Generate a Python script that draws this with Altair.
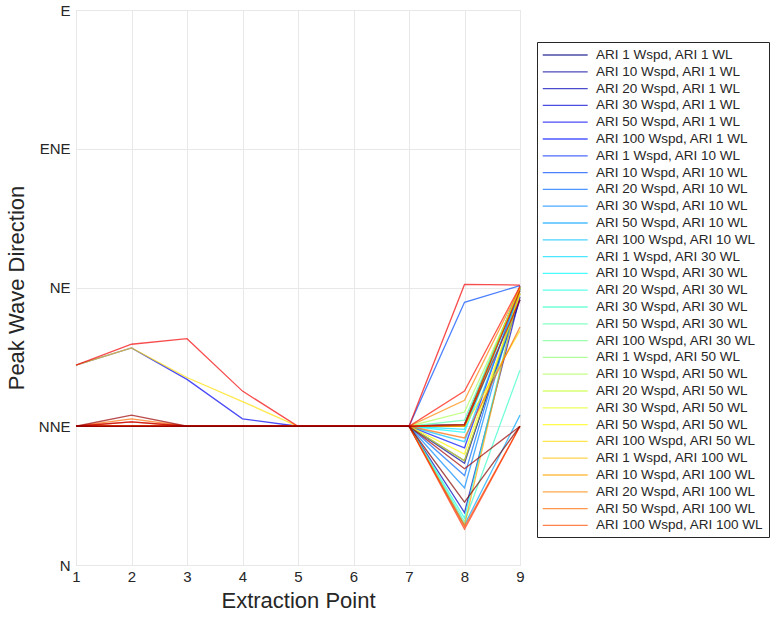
import altair as alt
import pandas as pd

# ---------------- data ----------------
x_points = [1, 2, 3, 4, 5, 6, 7, 8, 9]

legend_labels = [
    "ARI 1 Wspd, ARI 1 WL", "ARI 10 Wspd, ARI 1 WL", "ARI 20 Wspd, ARI 1 WL",
    "ARI 30 Wspd, ARI 1 WL", "ARI 50 Wspd, ARI 1 WL", "ARI 100 Wspd, ARI 1 WL",
    "ARI 1 Wspd, ARI 10 WL", "ARI 10 Wspd, ARI 10 WL", "ARI 20 Wspd, ARI 10 WL",
    "ARI 30 Wspd, ARI 10 WL", "ARI 50 Wspd, ARI 10 WL", "ARI 100 Wspd, ARI 10 WL",
    "ARI 1 Wspd, ARI 30 WL", "ARI 10 Wspd, ARI 30 WL", "ARI 20 Wspd, ARI 30 WL",
    "ARI 30 Wspd, ARI 30 WL", "ARI 50 Wspd, ARI 30 WL", "ARI 100 Wspd, ARI 30 WL",
    "ARI 1 Wspd, ARI 50 WL", "ARI 10 Wspd, ARI 50 WL", "ARI 20 Wspd, ARI 50 WL",
    "ARI 30 Wspd, ARI 50 WL", "ARI 50 Wspd, ARI 50 WL", "ARI 100 Wspd, ARI 50 WL",
    "ARI 1 Wspd, ARI 100 WL", "ARI 10 Wspd, ARI 100 WL", "ARI 20 Wspd, ARI 100 WL",
    "ARI 50 Wspd, ARI 100 WL", "ARI 100 Wspd, ARI 100 WL",
]
unlabelled = ["data30", "data31", "data32", "data33", "data34", "data35", "data36"]
series_names = legend_labels + unlabelled

# peak wave direction (degrees) at extraction points 1..9, one row per series
directions = [
    [22.5, 22.5, 22.5, 22.5, 22.5, 22.5, 22.5, 16.9, 43.0],
    [22.5, 22.5, 22.5, 22.5, 22.5, 22.5, 22.5, 16.5, 44.0],
    [22.5, 22.5, 22.5, 22.5, 22.5, 22.5, 22.5, 8.5, 43.5],
    [22.5, 22.5, 22.5, 22.5, 22.5, 22.5, 22.5, 22.8, 45.0],
    [32.4, 35.2, 30.1, 23.7, 22.5, 22.5, 22.5, 22.8, 45.2],
    [22.5, 22.5, 22.5, 22.5, 22.5, 22.5, 22.5, 19.0, 45.0],
    [22.5, 22.5, 22.5, 22.5, 22.5, 22.5, 22.5, 22.5, 44.8],
    [22.5, 22.5, 22.5, 22.5, 22.5, 22.5, 22.5, 42.6, 45.3],
    [22.5, 22.5, 22.5, 22.5, 22.5, 22.5, 22.5, 14.5, 45.0],
    [22.5, 22.5, 22.5, 22.5, 22.5, 22.5, 22.5, 12.5, 45.0],
    [22.5, 22.5, 22.5, 22.5, 22.5, 22.5, 22.5, 6.5, 24.3],
    [22.5, 22.5, 22.5, 22.5, 22.5, 22.5, 22.5, 20.0, 44.5],
    [22.5, 22.5, 22.5, 22.5, 22.5, 22.5, 22.5, 22.0, 45.0],
    [22.5, 22.5, 22.5, 22.5, 22.5, 22.5, 22.5, 21.5, 45.0],
    [22.5, 22.5, 22.5, 22.5, 22.5, 22.5, 22.5, 7.6, 45.0],
    [22.5, 22.5, 22.5, 22.5, 22.5, 22.5, 22.5, 7.0, 31.6],
    [22.5, 22.5, 22.5, 22.5, 22.5, 22.5, 22.5, 23.5, 45.0],
    [22.5, 22.5, 22.5, 22.5, 22.5, 22.5, 22.5, 22.5, 45.0],
    [22.5, 22.5, 22.5, 22.5, 22.5, 22.5, 22.5, 22.8, 45.0],
    [22.5, 22.5, 22.5, 22.5, 22.5, 22.5, 22.5, 24.8, 44.5],
    [22.5, 22.5, 22.5, 22.5, 22.5, 22.5, 22.5, 22.5, 45.0],
    [22.5, 22.5, 22.5, 22.5, 22.5, 22.5, 22.5, 16.9, 44.0],
    [22.5, 22.5, 22.5, 22.5, 22.5, 22.5, 22.5, 18.0, 44.0],
    [32.4, 35.2, 30.4, 26.5, 22.5, 22.5, 22.5, 22.5, 38.0],
    [22.5, 22.5, 22.5, 22.5, 22.5, 22.5, 22.5, 22.5, 45.0],
    [22.5, 22.5, 22.5, 22.5, 22.5, 22.5, 22.5, 6.5, 45.0],
    [22.5, 22.5, 22.5, 22.5, 22.5, 22.5, 22.5, 26.7, 45.0],
    [22.5, 23.7, 22.5, 22.5, 22.5, 22.5, 22.5, 20.6, 38.6],
    [22.5, 22.5, 22.5, 22.5, 22.5, 22.5, 22.5, 6.2, 22.5],
    [22.5, 23.2, 22.5, 22.5, 22.5, 22.5, 22.5, 5.8, 22.5],
    [22.5, 22.5, 22.5, 22.5, 22.5, 22.5, 22.5, 28.2, 45.2],
    [32.4, 35.8, 36.7, 28.2, 22.5, 22.5, 22.5, 45.5, 45.4],
    [22.5, 22.5, 22.5, 22.5, 22.5, 22.5, 22.5, 22.8, 44.5],
    [22.5, 23.2, 22.5, 22.5, 22.5, 22.5, 22.5, 22.6, 43.0],
    [22.5, 24.3, 22.5, 22.5, 22.5, 22.5, 22.5, 15.6, 22.5],
    [22.5, 22.5, 22.5, 22.5, 22.5, 22.5, 22.5, 10.2, 22.5],
]

y_tick_values = [0, 22.5, 45, 67.5, 90]
y_tick_labels = ["N", "NNE", "NE", "ENE", "E"]


# ---------------- colours (MATLAB jet colormap) ----------------
def jet(t):
    def c(v):
        return int(round(255 * max(0.0, min(1.0, v))))
    r = c(1.5 - abs(4 * t - 3))
    g = c(1.5 - abs(4 * t - 2))
    b = c(1.5 - abs(4 * t - 1))
    return f"#{r:02x}{g:02x}{b:02x}"


n = len(series_names)
colors = [jet(i / (n - 1)) for i in range(n)]

rows = []
for k, (name, vals) in enumerate(zip(series_names, directions)):
    for x, v in zip(x_points, vals):
        rows.append({"point": x, "dir": v, "series": name, "idx": k})
df = pd.DataFrame(rows)

label_expr = " : ".join(
    f"datum.value == {v} ? '{l}'" for v, l in zip(y_tick_values, y_tick_labels)
) + " : ''"

FONT = "Liberation Sans"
TXT = "#262626"

chart = (
    alt.Chart(df)
    .mark_line(strokeWidth=1.3, opacity=0.7)
    .encode(
        x=alt.X(
            "point:Q",
            scale=alt.Scale(domain=[1, 9], nice=False),
            axis=alt.Axis(
                values=x_points, format="d", title="Extraction Point",
                labelFlush=False, labelFontSize=15, titleFontSize=22,
                labelPadding=4, titlePadding=6, ticks=False, domain=False,
                gridColor="#e8e8e8", labelColor=TXT, titleColor=TXT,
                labelFont=FONT, titleFont=FONT, titleFontWeight="normal",
            ),
        ),
        y=alt.Y(
            "dir:Q",
            scale=alt.Scale(domain=[0, 90], nice=False),
            axis=alt.Axis(
                values=y_tick_values, labelExpr=label_expr,
                title="Peak Wave Direction", labelFontSize=15, titleFontSize=22,
                labelPadding=6, titlePadding=10, ticks=False, domain=False,
                gridColor="#e8e8e8", labelColor=TXT, titleColor=TXT,
                labelFont=FONT, titleFont=FONT, titleFontWeight="normal",
            ),
        ),
        color=alt.Color(
            "series:N",
            sort=series_names,
            scale=alt.Scale(domain=series_names, range=colors),
            legend=alt.Legend(
                values=legend_labels, title=None, orient="none",
                legendX=461, legendY=32, padding=5,
                strokeColor="#262626", fillColor="white",
                symbolType="M-1,0H5.2", symbolSize=210, symbolStrokeWidth=1.3,
                symbolOpacity=0.7, labelOffset=38, rowPadding=1.8,
                labelFontSize=13.5, labelFont=FONT, labelColor=TXT,
                labelLimit=400,
            ),
        ),
        order=alt.Order("idx:Q"),
    )
    .properties(
        width=444, height=555,
        autosize=alt.AutoSizeParams(type="none"),
        padding={"left": 76, "top": 10, "right": 255, "bottom": 56},
    )
    .configure_view(stroke="#262626", strokeWidth=1)
    .configure(background="white")
)

chart.save("out.html", embed_options={"renderer": "svg", "actions": False})
